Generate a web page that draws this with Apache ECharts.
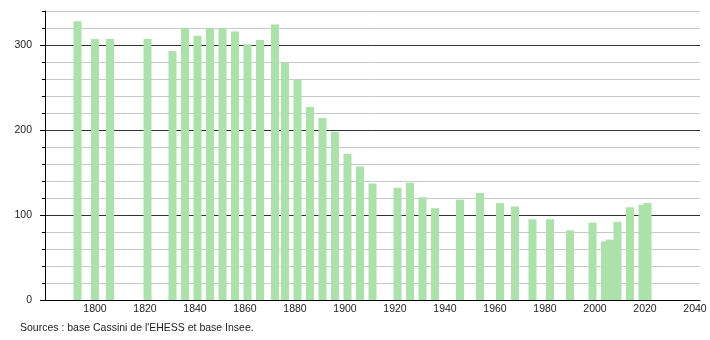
<!DOCTYPE html>
<html>
<head>
<meta charset="utf-8">
<script src="https://cdn.jsdelivr.net/npm/echarts@6/dist/echarts.min.js"></script>
<style>
html,body{margin:0;padding:0;background:#fff;}
#chart{width:710px;height:340px;}
</style>
</head>
<body>
<div id="chart"></div>
<script>
const years = [1793,1800,1806,1821,1831,1836,1841,1846,1851,1856,1861,1866,1872,1876,1881,1886,1891,1896,1901,1906,1911,1921,1926,1931,1936,1946,1954,1962,1968,1975,1982,1990,1999,2004,2006,2009,2014,2019,2021];
const population = [328,307,307,307,293,320,311,320,320,316,301,306,324,279,259,227,214,198,172,157,137,132,138,121,108,118,126,114,110,95,95,82,91,69,71,92,109,112,114];
const yMajorTicks = [0,100,200,300];
const sourceText = "Sources : base Cassini de l'EHESS et base Insee.";

const chart = echarts.init(document.getElementById('chart'), null, {renderer:'canvas'});
const font = 'Liberation Sans, Arial, sans-serif';
chart.setOption({
  animation:false,
  grid:{left:45, right:10, top:11, bottom:40, containLabel:false},
  xAxis:{
    type:'value', min:1780, max:2042, interval:20,
    axisLine:{show:true, lineStyle:{color:'#000', width:1}},
    axisTick:{show:false},
    splitLine:{show:false},
    axisLabel:{margin:4, fontSize:10.5, fontFamily:font, color:'#222',
      showMinLabel:false, showMaxLabel:true,
      formatter:v => (v % 20 === 0 && v > 1780) ? String(v) : ''}
  },
  yAxis:[{
    type:'value', min:0, max:340, interval:20,
    axisLine:{show:true, lineStyle:{color:'#000', width:1}},
    axisTick:{show:true, length:3, lineStyle:{color:'#000'}},
    splitLine:{show:true, lineStyle:{color:['#333','#c8c8c8','#c8c8c8','#c8c8c8','#c8c8c8'], width:1}},
    axisLabel:{margin:13, fontSize:10.5, fontFamily:font, color:'#222',
      formatter:v => yMajorTicks.includes(v) ? String(v) : ''}
  },{
    type:'value', min:0, max:340, position:'left',
    axisLine:{show:false},
    axisTick:{show:true, length:5, customValues:yMajorTicks, lineStyle:{color:'#000'}},
    splitLine:{show:false},
    axisLabel:{show:false}
  }],
  series:[{
    type:'bar',
    data: years.map((y,i)=>[y, population[i]]),
    barWidth:8,
    itemStyle:{color:'#aae2aa'},
    silent:true
  }],
  graphic:[{
    type:'text', left:20, top:323,
    style:{text:sourceText, fontSize:10.5, fontFamily:font, fill:'#222'}
  }]
});
</script>
</body>
</html>
